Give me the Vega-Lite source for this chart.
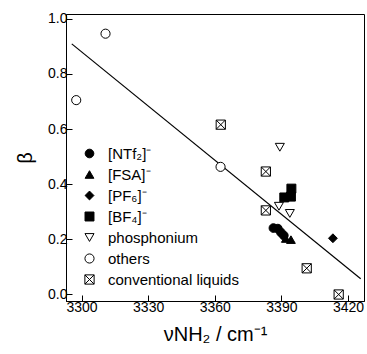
{
  "$schema": "https://vega.github.io/schema/vega-lite/v6.json",
  "width": 298,
  "height": 287,
  "autosize": "none",
  "padding": {"left": 66, "top": 14, "right": 3, "bottom": 53},
  "background": "white",
  "config": {
    "font": "Liberation Sans",
    "view": {"stroke": "black", "strokeWidth": 1},
    "axis": {"grid": false, "domainColor": "black", "tickColor": "black", "labelColor": "black", "titleColor": "black", "labelFont": "Liberation Sans", "titleFont": "Liberation Sans", "labelFontSize": 14, "titleFontSize": 20, "titleFontWeight": "normal", "tickSize": -6, "labelPadding": 5}
  },
  "datasets": {
    "pts": [
      {"nu": 3386.4, "beta": 0.241, "type": "[NTf₂]⁻"},
      {"nu": 3388.4, "beta": 0.239, "type": "[NTf₂]⁻"},
      {"nu": 3389.8, "beta": 0.225, "type": "[NTf₂]⁻"},
      {"nu": 3391.1, "beta": 0.214, "type": "[NTf₂]⁻"},
      {"nu": 3392.0, "beta": 0.203, "type": "[FSA]⁻"},
      {"nu": 3394.3, "beta": 0.199, "type": "[FSA]⁻"},
      {"nu": 3413.2, "beta": 0.204, "type": "[PF₆]⁻"},
      {"nu": 3391.3, "beta": 0.352, "type": "[BF₄]⁻"},
      {"nu": 3394.3, "beta": 0.355, "type": "[BF₄]⁻"},
      {"nu": 3394.5, "beta": 0.384, "type": "[BF₄]⁻"},
      {"nu": 3389.3, "beta": 0.534, "type": "phosphonium"},
      {"nu": 3388.9, "beta": 0.320, "type": "phosphonium"},
      {"nu": 3393.8, "beta": 0.294, "type": "phosphonium"},
      {"nu": 3297.6, "beta": 0.705, "type": "others"},
      {"nu": 3310.8, "beta": 0.946, "type": "others"},
      {"nu": 3362.6, "beta": 0.463, "type": "others"},
      {"nu": 3362.7, "beta": 0.616, "type": "conventional liquids"},
      {"nu": 3383.0, "beta": 0.446, "type": "conventional liquids"},
      {"nu": 3383.0, "beta": 0.305, "type": "conventional liquids"},
      {"nu": 3401.4, "beta": 0.095, "type": "conventional liquids"},
      {"nu": 3415.8, "beta": 0.0, "type": "conventional liquids"}
    ],
    "fit": [
      {"nu": 3295.6, "beta": 0.909},
      {"nu": 3425.7, "beta": 0.057}
    ]
  },
  "layer": [
    {
      "data": {"name": "fit"},
      "mark": {"type": "line", "color": "black", "strokeWidth": 1.2},
      "encoding": {
        "x": {"field": "nu", "type": "quantitative"},
        "y": {"field": "beta", "type": "quantitative"}
      }
    },
    {
      "data": {"name": "pts"},
      "mark": {"type": "point", "filled": true, "stroke": "black", "strokeWidth": 1, "opacity": 1},
      "encoding": {
        "x": {
          "field": "nu", "type": "quantitative",
          "scale": {"domain": [3293.0, 3427.2], "nice": false, "zero": false},
          "axis": {"values": [3300, 3330, 3360, 3390, 3420], "format": "d", "title": "νNH₂ / cm⁻¹", "titlePadding": 10}
        },
        "y": {
          "field": "beta", "type": "quantitative",
          "scale": {"domain": [-0.0236, 1.0174], "nice": false, "zero": false},
          "axis": {"values": [0, 0.2, 0.4, 0.6, 0.8, 1.0], "format": ".1f", "title": "β", "titlePadding": 12}
        },
        "shape": {
          "field": "type", "type": "nominal",
          "scale": {
            "domain": ["[NTf₂]⁻", "[FSA]⁻", "[PF₆]⁻", "[BF₄]⁻", "phosphonium", "others", "conventional liquids"],
            "range": ["circle", "triangle-up", "diamond", "square", "triangle-down", "circle", "M-1,-1H1V1H-1Z M-1,-1L1,1 M1,-1L-1,1"]
          },
          "legend": {
            "orient": "none", "legendX": 16, "legendY": 132, "title": null,
            "labelFontSize": 15, "labelColor": "black", "labelFont": "Liberation Sans",
            "labelOffset": 11, "rowPadding": 5, "symbolStrokeColor": "black", "symbolStrokeWidth": 1, "symbolOpacity": 1,
            "encode": {"symbols": {"update": {"stroke": {"value": "black"}, "strokeWidth": {"value": 1}}}}
          }
        },
        "fill": {
          "field": "type", "type": "nominal",
          "scale": {
            "domain": ["[NTf₂]⁻", "[FSA]⁻", "[PF₆]⁻", "[BF₄]⁻", "phosphonium", "others", "conventional liquids"],
            "range": ["black", "black", "black", "black", "white", "white", "white"]
          }
        },
        "size": {
          "field": "type", "type": "nominal",
          "scale": {
            "domain": ["[NTf₂]⁻", "[FSA]⁻", "[PF₆]⁻", "[BF₄]⁻", "phosphonium", "others", "conventional liquids"],
            "range": [75, 85, 160, 85, 70, 70, 70]
          }
        }
      }
    }
  ]
}
